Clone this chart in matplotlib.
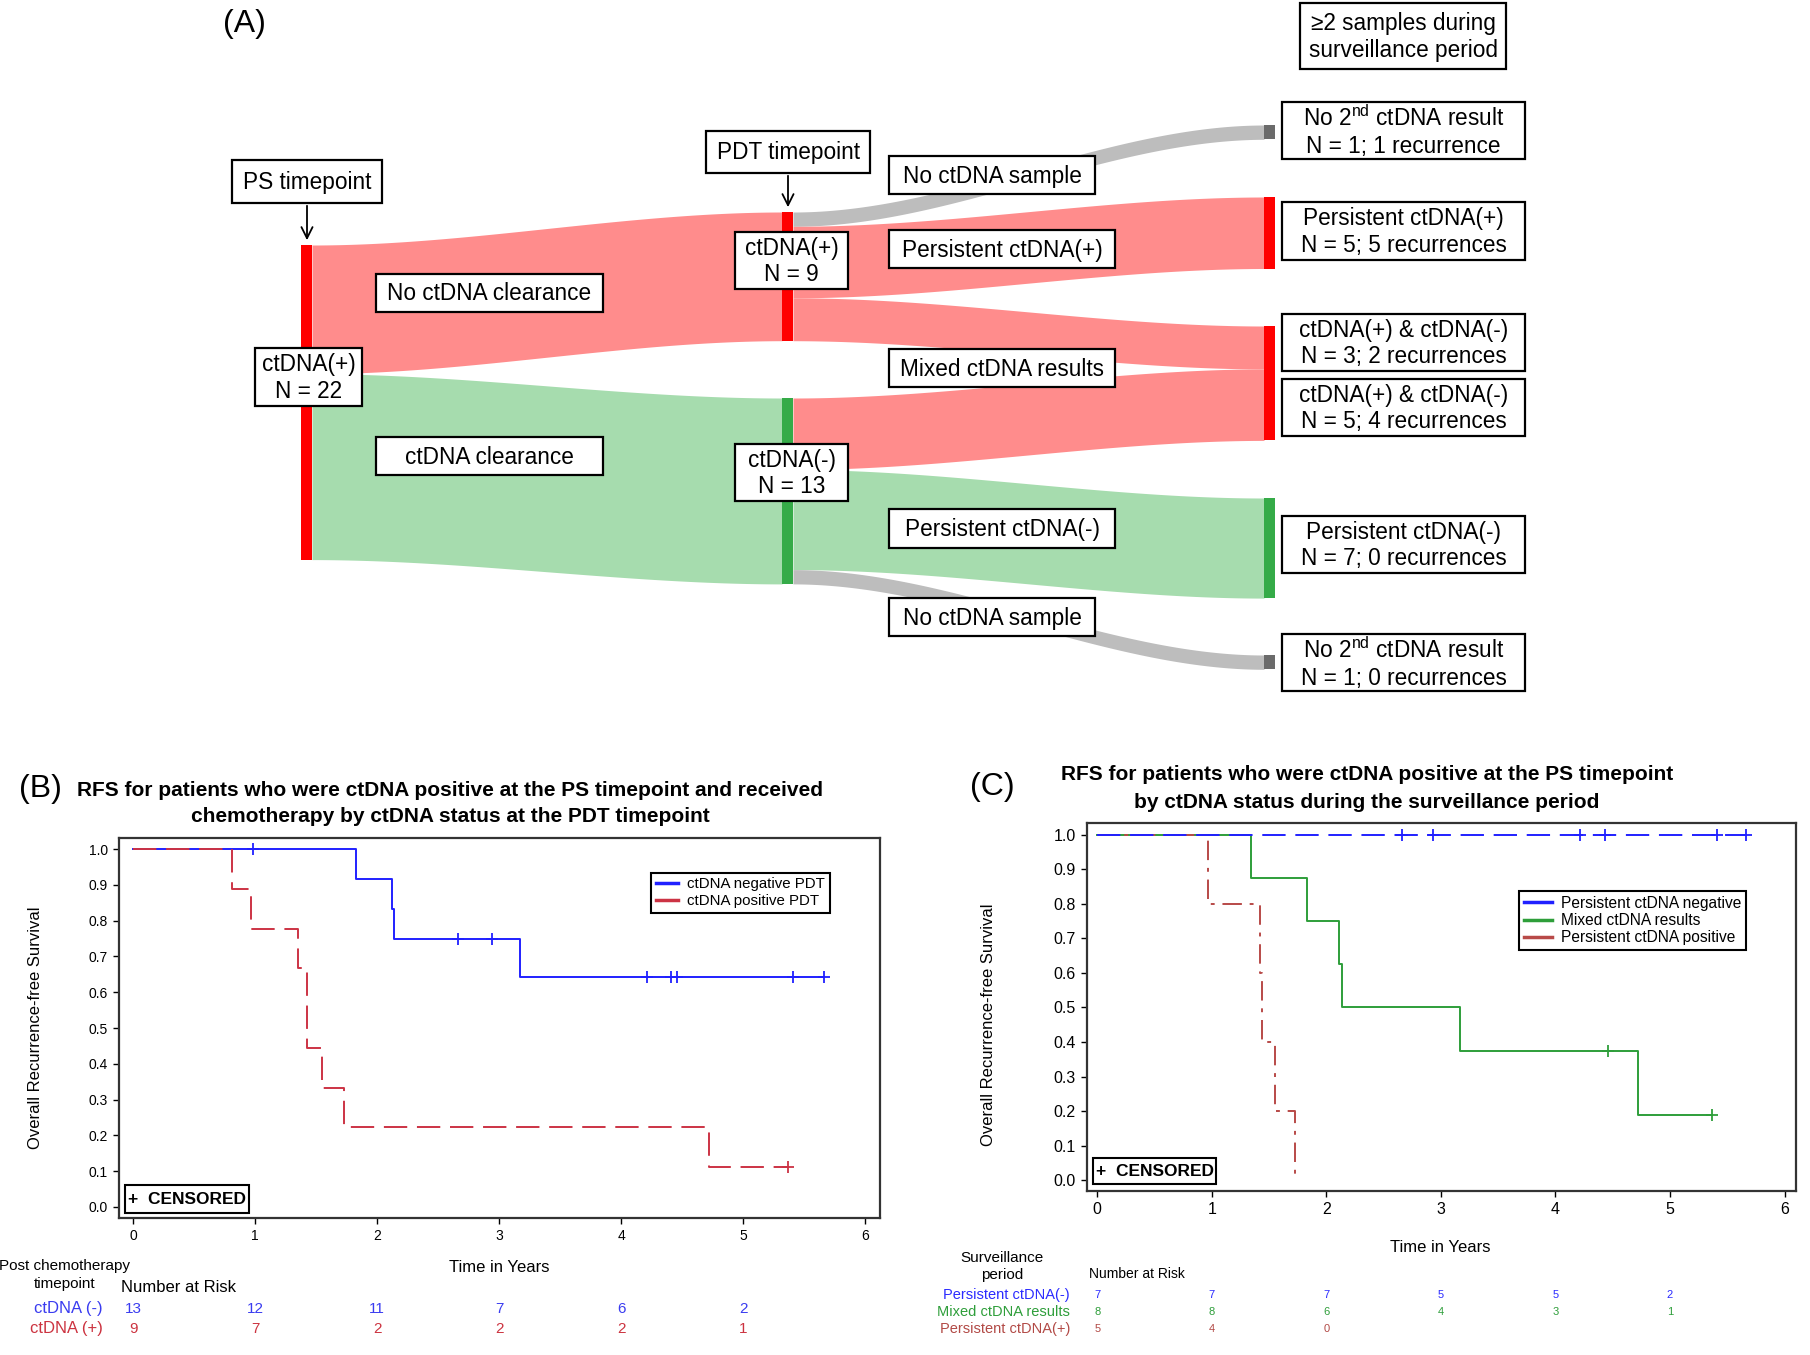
import numpy as np
import matplotlib
matplotlib.use("Agg")
import matplotlib.pyplot as plt
from matplotlib.patches import Rectangle
from matplotlib.lines import Line2D
from matplotlib.transforms import blended_transform_factory

plt.rcParams['font.family'] = ['Liberation Sans', 'DejaVu Sans']
plt.rcParams['mathtext.fontset'] = 'custom'
plt.rcParams['mathtext.rm'] = 'Liberation Sans'
plt.rcParams['mathtext.it'] = 'Liberation Sans:italic'
plt.rcParams['mathtext.bf'] = 'Liberation Sans:bold'

# ---------------- DATA ----------------
# Panel A: Sankey (patient counts)
node_counts = [22, 9, 13, 1, 5, 8, 7, 1]
node_kind = ["pos", "pos", "neg", "none", "pos", "pos", "neg", "none"]
link_src = [0, 0, 1, 1, 1, 2, 2, 2]
link_dst = [1, 2, 3, 4, 5, 5, 6, 7]
link_val = [9, 13, 1, 5, 3, 5, 7, 1]
link_kind = ["pos", "neg", "none", "pos", "pos", "pos", "neg", "none"]

box_labels = ["PS timepoint", "PDT timepoint", "ctDNA(+)\nN = 22",
              "No ctDNA clearance", "ctDNA clearance",
              "ctDNA(+)\nN = 9", "ctDNA(-)\nN = 13",
              "\u22652 samples during\nsurveillance period",
              "No ctDNA sample", "Persistent ctDNA(+)", "Mixed ctDNA results",
              "Persistent ctDNA(-)", "No ctDNA sample",
              "No 2$^{\\rm nd}$ ctDNA result\nN = 1; 1 recurrence",
              "Persistent ctDNA(+)\nN = 5; 5 recurrences",
              "ctDNA(+) & ctDNA(-)\nN = 3; 2 recurrences",
              "ctDNA(+) & ctDNA(-)\nN = 5; 4 recurrences",
              "Persistent ctDNA(-)\nN = 7; 0 recurrences",
              "No 2$^{\\rm nd}$ ctDNA result\nN = 1; 0 recurrences"]

# Panel B: KM curves
b_neg_t = [0.0, 1.83, 2.12, 2.14, 3.17, 5.66]
b_neg_s = [1.0, 0.917, 0.833, 0.75, 0.643, 0.643]
b_neg_cens_t = [0.98, 2.66, 2.94, 4.21, 4.41, 4.46, 5.41, 5.66]
b_neg_cens_s = [1.0, 0.75, 0.75, 0.643, 0.643, 0.643, 0.643, 0.643]
b_pos_t = [0.0, 0.81, 0.97, 1.35, 1.43, 1.55, 1.73, 4.72, 5.37]
b_pos_s = [1.0, 0.889, 0.778, 0.667, 0.444, 0.333, 0.222, 0.111, 0.111]
b_pos_cens_t = [5.37]
b_pos_cens_s = [0.111]
b_risk_times = [0, 1, 2, 3, 4, 5]
b_risk_neg = [13, 12, 11, 7, 6, 2]
b_risk_pos = [9, 7, 2, 2, 2, 1]
b_legend = ["ctDNA negative PDT", "ctDNA positive PDT"]
b_rows = ["ctDNA (-)", "ctDNA (+)"]

# Panel C: KM curves
c_neg_t = [0.0, 5.66]
c_neg_s = [1.0, 1.0]
c_neg_cens_t = [2.66, 2.93, 4.21, 4.43, 5.41, 5.66]
c_neg_cens_s = [1.0, 1.0, 1.0, 1.0, 1.0, 1.0]
c_mix_t = [0.0, 1.34, 1.83, 2.11, 2.14, 3.17, 4.72, 5.37]
c_mix_s = [1.0, 0.875, 0.75, 0.625, 0.5, 0.375, 0.1875, 0.1875]
c_mix_cens_t = [4.46, 5.37]
c_mix_cens_s = [0.375, 0.1875]
c_pos_t = [0.0, 0.97, 1.42, 1.44, 1.55, 1.73]
c_pos_s = [1.0, 0.8, 0.6, 0.4, 0.2, 0.0]
c_risk_times = [0, 1, 2, 3, 4, 5]
c_risk_neg = [7, 7, 7, 5, 5, 2]
c_risk_mix = [8, 8, 6, 4, 3, 1]
c_risk_pos = [5, 4, 0]
c_legend = ["Persistent ctDNA negative", "Mixed ctDNA results", "Persistent ctDNA positive"]
c_rows = ["Persistent ctDNA(-)", "Mixed ctDNA results", "Persistent ctDNA(+)"]

yticks = [0.0, 0.1, 0.2, 0.3, 0.4, 0.5, 0.6, 0.7, 0.8, 0.9, 1.0]
xticks = [0, 1, 2, 3, 4, 5, 6]

# ---------------- LAYOUT / STYLE ----------------
W, H = 1810, 1355
fig = plt.figure(figsize=(W / 100, H / 100), dpi=100)

unit = 14.3
node_w = 11
node_x = [301, 782, 782, 1264, 1264, 1264, 1264, 1264]
node_top = [245, 212, 398, 125, 197, 326, 498, 655]
node_col = {"pos": "#ff0000", "neg": "#35ab48", "none": "#6b6b6b"}
flow_col = {"pos": "#ff8c8c", "neg": "#a6dcae", "none": "#bdbdbd"}

box_pos = [(232, 160, 382, 203), (706, 131, 870, 173), (255, 348, 362, 406),
           (376, 274, 603, 312), (376, 437, 603, 475),
           (735, 232, 848, 289), (735, 444, 848, 501),
           (1300, 3, 1506, 69),
           (889, 156, 1095, 194), (889, 230, 1115, 268), (889, 349, 1115, 387),
           (889, 509, 1115, 548), (889, 598, 1095, 636),
           (1282, 102, 1525, 159), (1282, 202, 1525, 260), (1282, 314, 1525, 371),
           (1282, 379, 1525, 436), (1282, 516, 1525, 573), (1282, 634, 1525, 691)]

def px_axes(x0, y0, x1, y1, **kw):
    return fig.add_axes([x0 / W, (H - y1) / H, (x1 - x0) / W, (y1 - y0) / H], **kw)

# KM axes
axB = px_axes(119, 838, 880, 1218)
axC = px_axes(1087, 823, 1796, 1190.5)

# overlay in pixel coordinates
ov = fig.add_axes([0, 0, 1, 1], zorder=10)
ov.set_xlim(0, W)
ov.set_ylim(H, 0)
ov.axis("off")
ov.patch.set_visible(False)

# ---- Panel A Sankey ----
out_off = [0.0] * len(node_counts)
in_off = [0.0] * len(node_counts)
for s, d, v, k in zip(link_src, link_dst, link_val, link_kind):
    y0 = node_top[s] + out_off[s]
    out_off[s] += v * unit
    y1 = node_top[d] + in_off[d]
    in_off[d] += v * unit
    x0 = node_x[s] + node_w
    x1 = node_x[d]
    xs = np.linspace(x0, x1, 200)
    t = (xs - x0) / (x1 - x0)
    f = 3 * t ** 2 - 2 * t ** 3
    top = y0 + (y1 - y0) * f
    ov.fill_between(xs, top, top + v * unit, color=flow_col[k], lw=0, zorder=1)

for i, c in enumerate(node_counts):
    ov.add_patch(Rectangle((node_x[i], node_top[i]), node_w, c * unit,
                           color=node_col[node_kind[i]], lw=0, zorder=2))

for lab, (x0, y0, x1, y1) in zip(box_labels, box_pos):
    ov.add_patch(Rectangle((x0, y0), x1 - x0, y1 - y0, fc="white", ec="black",
                           lw=1.6, zorder=3))
    ov.text((x0 + x1) / 2, (y0 + y1) / 2 + 1, lab, ha="center", va="center",
            fontsize=16.3, zorder=4, linespacing=1.22)

ov.annotate("", xy=(307, 243), xytext=(307, 203),
            arrowprops=dict(arrowstyle="->", lw=1.3, color="black", mutation_scale=20), zorder=4)
ov.annotate("", xy=(788, 210), xytext=(788, 173),
            arrowprops=dict(arrowstyle="->", lw=1.3, color="black", mutation_scale=20), zorder=4)

ov.text(244, 24, "(A)", ha="center", va="center", fontsize=23)
ov.text(40, 789, "(B)", ha="center", va="center", fontsize=23)
ov.text(992, 787, "(C)", ha="center", va="center", fontsize=23)

# ---- Panel B ----
blueB, redB = "#2020ff", "#cc3344"
axB.step(b_neg_t, b_neg_s, where="post", color=blueB, lw=1.4, zorder=3)
axB.step(b_pos_t, b_pos_s, where="post", color=redB, lw=1.4, ls=(0, (12, 5)), zorder=4)
axB.plot(b_neg_cens_t, b_neg_cens_s, ls="none", marker="+", ms=8, mew=1.3, color=blueB, zorder=5)
axB.plot(b_pos_cens_t, b_pos_cens_s, ls="none", marker="+", ms=8, mew=1.3, color=redB, zorder=5)
axB.set_xlim(-0.115, 6.123)
axB.set_ylim(-0.031, 1.031)

# ---- Panel C ----
blueC, greenC, redC = "#2020ff", "#2e9e3a", "#b84a48"
axC.step(c_mix_t, c_mix_s, where="post", color=greenC, lw=1.4, zorder=3)
axC.step(c_pos_t, c_pos_s, where="post", color=redC, lw=1.4, ls=(0, (10, 4, 2, 4)), zorder=4)
axC.step(c_neg_t, c_neg_s, where="post", color=blueC, lw=1.4, ls=(0, (12, 5)), zorder=5)
axC.plot(c_neg_cens_t, c_neg_cens_s, ls="none", marker="+", ms=8, mew=1.3, color=blueC, zorder=6)
axC.plot(c_mix_cens_t, c_mix_cens_s, ls="none", marker="+", ms=8, mew=1.3, color=greenC, zorder=6)
axC.set_xlim(-0.09, 6.10)
axC.set_ylim(-0.03, 1.034)

for ax, fs in ((axB, 10), (axC, 11.5)):
    ax.set_xticks(xticks)
    ax.set_yticks(yticks)
    ax.set_yticklabels([f"{v:.1f}" for v in yticks])
    ax.tick_params(direction="out", length=4, width=1, labelsize=fs, pad=4)
    for sp in ax.spines.values():
        sp.set_linewidth(1.6)
        sp.set_color("#333333")

# axis labels placed at measured pixel positions
ov.text(499, 1268, "Time in Years", ha="center", va="center", fontsize=12)
ov.text(1440, 1248, "Time in Years", ha="center", va="center", fontsize=12)
ov.text(36, 1028, "Overall Recurrence-free Survival", ha="center", va="center",
        fontsize=12, rotation=90)
ov.text(988, 1025, "Overall Recurrence-free Survival", ha="center", va="center",
        fontsize=12, rotation=90)

legB = axB.legend([Line2D([], [], color=blueB, lw=2.5), Line2D([], [], color=redB, lw=2.5)],
                  b_legend, loc="upper right", bbox_to_anchor=(0.934, 0.908), borderaxespad=0,
                  fontsize=10.8, frameon=True, fancybox=False, framealpha=1, edgecolor="black",
                  handlelength=1.5, handletextpad=0.6, borderpad=0.3, labelspacing=0.2)
legB.get_frame().set_linewidth(1.5)
legC = axC.legend([Line2D([], [], color=blueC, lw=2.5), Line2D([], [], color=greenC, lw=2.5),
                   Line2D([], [], color=redC, lw=2.5)],
                  c_legend, loc="upper right", bbox_to_anchor=(0.9295, 0.815), borderaxespad=0,
                  fontsize=11.2, frameon=True, fancybox=False, framealpha=1, edgecolor="black",
                  handlelength=1.8, handletextpad=0.6, borderpad=0.3, labelspacing=0.15)
legC.get_frame().set_linewidth(1.5)

# censored boxes
for (x0, y0, x1, y1) in [(125, 1185, 249, 1213), (1093, 1158, 1216, 1184)]:
    ov.add_patch(Rectangle((x0, y0), x1 - x0, y1 - y0, fc="white", ec="black", lw=1.5, zorder=3))
    ov.text((x0 + x1) / 2, (y0 + y1) / 2 + 1, "+  CENSORED", ha="center", va="center",
            fontsize=12.5, fontweight="bold", zorder=4)

# titles
ov.text(450, 790, "RFS for patients who were ctDNA positive at the PS timepoint and received",
        ha="center", va="center", fontsize=15, fontweight="bold")
ov.text(450, 817, "chemotherapy by ctDNA status at the PDT timepoint",
        ha="center", va="center", fontsize=15, fontweight="bold")
ov.text(1367, 775, "RFS for patients who were ctDNA positive at the PS timepoint",
        ha="center", va="center", fontsize=15, fontweight="bold")
ov.text(1367, 803, "by ctDNA status during the surveillance period",
        ha="center", va="center", fontsize=15, fontweight="bold")

# risk table B
trB = blended_transform_factory(axB.transData, ov.transData)
ov.text(64, 1266, "Post chemotherapy", ha="center", va="center", fontsize=11)
ov.text(65, 1284, "timepoint", ha="center", va="center", fontsize=11)
ov.text(121, 1287, "Number at Risk", ha="left", va="center", fontsize=12)
rk_blueB, rk_redB = "#3a3cf0", "#cc3340"
ov.text(103, 1309, b_rows[0], ha="right", va="center", fontsize=12, color=rk_blueB)
ov.text(103, 1329, b_rows[1], ha="right", va="center", fontsize=12, color=rk_redB)
for t, v in zip(b_risk_times, b_risk_neg):
    ov.text(t, 1309, str(v), transform=trB, ha="center", va="center", fontsize=11, color=rk_blueB)
for t, v in zip(b_risk_times, b_risk_pos):
    ov.text(t, 1329, str(v), transform=trB, ha="center", va="center", fontsize=11, color=rk_redB)

# risk table C
trC = blended_transform_factory(axC.transData, ov.transData)
ov.text(1002, 1258, "Surveillance", ha="center", va="center", fontsize=11)
ov.text(1002, 1275, "period", ha="center", va="center", fontsize=11)
ov.text(1089, 1274, "Number at Risk", ha="left", va="center", fontsize=10)
rk_cols = ["#2b2bff", "#2e9e3a", "#b24a46"]
rows_vals = [c_risk_neg, c_risk_mix, c_risk_pos]
for i, (lab, vals) in enumerate(zip(c_rows, rows_vals)):
    y = 1295 + 17 * i
    ov.text(1070, y, lab, ha="right", va="center", fontsize=10.5, color=rk_cols[i])
    for t, v in zip(c_risk_times, vals):
        ov.text(t, y, str(v), transform=trC, ha="center", va="center", fontsize=8, color=rk_cols[i])

fig.savefig("out.png", dpi=100)
